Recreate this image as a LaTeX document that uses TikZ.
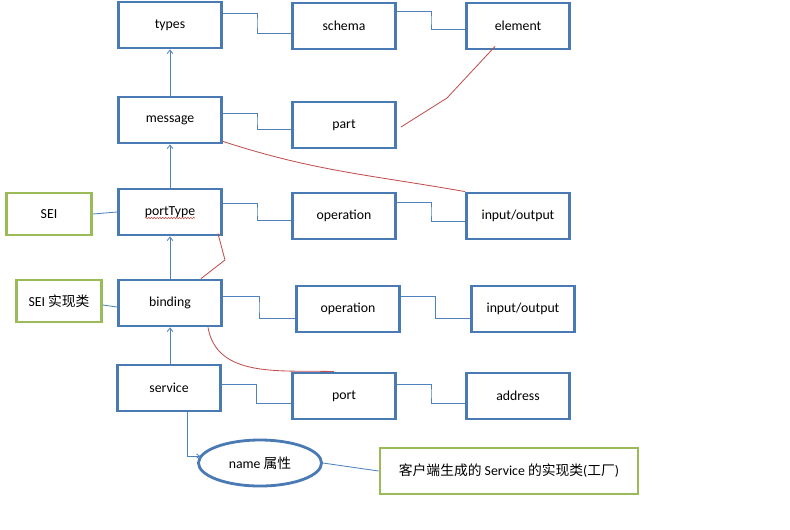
\documentclass[tikz,border=0pt]{standalone}
\usepackage{fontspec}
\setmainfont{Carlito}
\newfontfamily\cjk{Noto Sans CJK SC}
\usetikzlibrary{arrows.meta, calc, shapes.geometric, decorations.pathmorphing}
\definecolor{boxblue}{RGB}{74,122,180}
\definecolor{lineblue}{RGB}{79,129,189}
\definecolor{seigreen}{RGB}{155,187,89}
\definecolor{linkred}{RGB}{192,80,77}

\tikzset{
  wbox/.style={draw=boxblue, line width=2pt, fill=white, minimum width=2.575cm,
    minimum height=1.15cm, font=\fontsize{9.8}{11}\selectfont},
  gbox/.style={wbox, draw=seigreen, minimum width=2.125cm, minimum height=1.05cm},
  link/.style={draw=lineblue, line width=0.6pt},
  uplink/.style={link, -{Straight Barb[length=2.5pt,width=4pt]}},
  redlink/.style={draw=linkred, line width=0.6pt},
}

\begin{document}
\begin{tikzpicture}[x=0.025cm, y=-0.025cm]
    \useasboundingbox (0,0) rectangle (790,529);

    %% Blue element boxes
    \node[wbox] (types)    at (170,25)  {types};
    \node[wbox] (schema)   at (344,26)  {schema};
    \node[wbox] (element)  at (518,26)  {element};
    \node[wbox] (message)  at (170,120) {message};
    \node[wbox] (part)     at (344,125) {part};
    \node[wbox] (portType) at (170,212) {portType};
    \node[wbox] (opA)      at (344,216) {operation};
    \node[wbox] (ioA)      at (518,216) {input/output};
    \node[wbox] (binding)  at (170,303) {binding};
    \node[wbox] (opB)      at (348,309) {operation};
    \node[wbox] (ioB)      at (523,309) {input/output};
    \node[wbox] (service)  at (169,388) {service};
    \node[wbox] (port)     at (344,396) {port};
    \node[wbox] (address)  at (518,396) {address};
    \node[wbox, ellipse, minimum width=3.075cm, minimum height=1.15cm]
      (nameAttr) at (260,463) {name {\cjk 属性}};

    %% Green boxes
    \node[gbox] (sei)     at (49,214)  {SEI};
    \node[gbox] (seiImpl) at (59,301)  {SEI {\cjk 实现类}};
    \node[gbox, minimum width=6.45cm, minimum height=1.15cm]
      (factory) at (509,471) {{\cjk 客户端生成的} Service {\cjk 的实现类}({\cjk 工厂})};

    %% Spell-check underline
    \draw[linkred, line width=0.4pt, decorate,
      decoration={snake, amplitude=0.5pt, segment length=2pt}]
      ($(portType.center)+(-25,6)$) -- ($(portType.center)+(25,6)$);

    %% Elbow links to children
    \foreach \a/\b/\ua/\ub in {types/schema/-12/7, schema/element/-15/3,
        message/part/-7/4, portType/opA/-9/4, opA/ioA/-14/5, binding/opB/-7/9,
        opB/ioB/-13/9, service/port/-4/7, port/address/-12/7} {
      \coordinate (s) at ($(\a.east)+(0,\ua)$);
      \coordinate (e) at ($(\b.west)+(0,\ub)$);
      \draw[link] (s) -| ($(s)!0.5!(e)$) |- (e);
    }

    %% Upward references
    \foreach \lo/\hi in {message/types, portType/message, binding/portType, service/binding}
      \draw[uplink] (\hi.south |- \lo.north) -- (\hi.south);

    %% SEI links
    \draw[link] (sei.east) -- (portType.west);
    \draw[link] ($(seiImpl.east)+(0,4)$) -- ($(binding.west)+(0,4)$);

    %% name attribute
    \draw[link, -{Straight Barb[length=2pt,width=3pt]}]
      ($(service.south)+(18,0)$) |- ($(nameAttr.west)+(3,-7)$);
    \draw[link] (nameAttr.east) -- (factory.west);

    %% Red relations
    \coordinate (kinkA) at (447,98);
    \draw[redlink] ($(part.east)+(4,2)$) -- (kinkA) -- ($(element.south)+(-23,-4)$);
    \draw[redlink] ($(message.south east)+(0,-3)$) to[out=-18, in=170] (ioA.north west);
    \coordinate (kinkB) at (225,260);
    \draw[redlink] ($(binding.north)+(31,0)$) -- (kinkB) -- ($(portType.south east)+(-5,-3)$);
    \draw[redlink] ($(binding.south)+(38,0)$) to[out=-80, in=178] ($(port.north)+(-10,0)$);
  \end{tikzpicture}
\end{document}
